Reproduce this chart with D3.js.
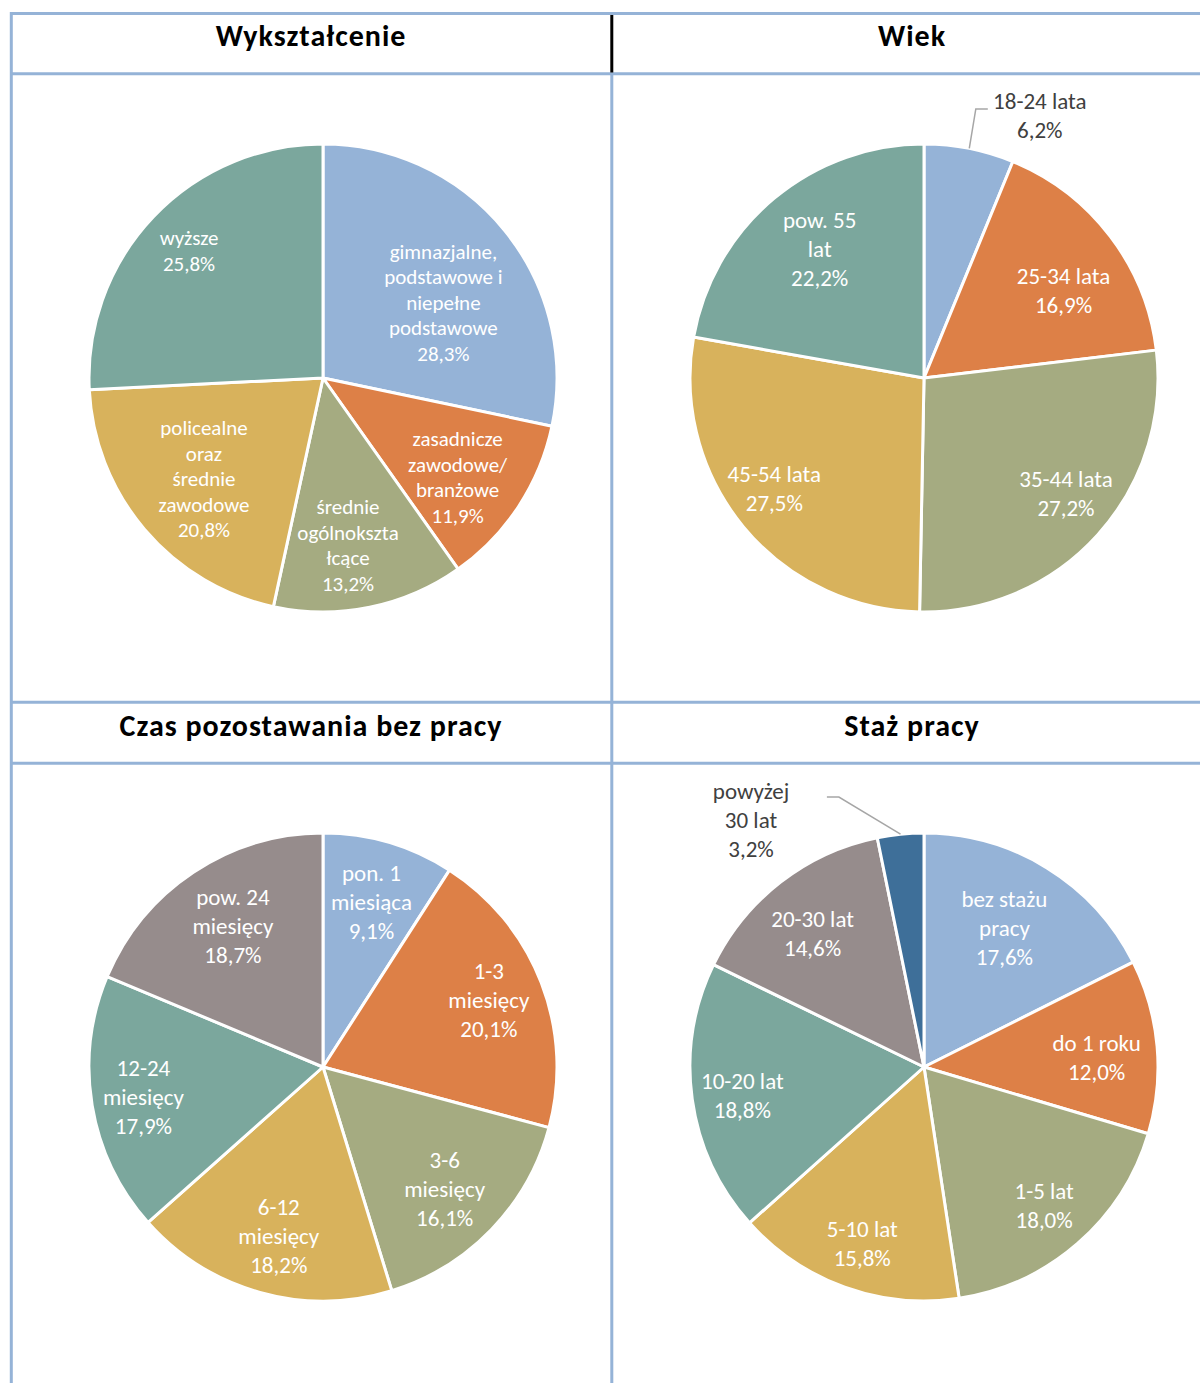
<!DOCTYPE html>
<html>
<head>
<meta charset="utf-8">
<script src="https://cdn.jsdelivr.net/npm/d3@7"></script>
<style>
  body { margin: 0; background: #fff; }
  svg { display: block; font-family: Carlito, Calibri, Lato, sans-serif; }
</style>
</head>
<body>
<svg id="chart" width="1200" height="1383"></svg>
<script>
// ---- data ----
var titles = ["Wykształcenie", "Wiek", "Czas pozostawania bez pracy", "Staż pracy"];

var eduCats = ["gimnazjalne,\npodstawowe i\nniepełne\npodstawowe", "zasadnicze\nzawodowe/\nbranżowe",
               "średnie\nogólnokszta\nłcące", "policealne\noraz\nśrednie\nzawodowe", "wyższe"];
var eduVals = [28.3, 11.9, 13.2, 20.8, 25.8];

var ageCats = ["18-24 lata", "25-34 lata", "35-44 lata", "45-54 lata", "pow. 55\nlat"];
var ageVals = [6.2, 16.9, 27.2, 27.5, 22.2];

var unempCats = ["pon. 1\nmiesiąca", "1-3\nmiesięcy", "3-6\nmiesięcy", "6-12\nmiesięcy", "12-24\nmiesięcy", "pow. 24\nmiesięcy"];
var unempVals = [9.1, 20.1, 16.1, 18.2, 17.9, 18.7];

var tenureCats = ["bez stażu\npracy", "do 1 roku", "1-5 lat", "5-10 lat", "10-20 lat", "20-30 lat", "powyżej\n30 lat"];
var tenureVals = [17.6, 12.0, 18.0, 15.8, 18.8, 14.6, 3.2];

var colors = ["#95b3d7", "#dd8047", "#a5ab81", "#d8b25c", "#7ba79d", "#968c8c", "#3e6f99"];

// ---- layout ----
// inside labels: distance from centre (fraction of radius) and angle nudge (degrees) per slice
var eduLabR = [0.607, 0.714, 0.722, 0.667, 0.79];
var eduLabA = [7, 3, 3, 0, 0];
var ageLabR = [0, 0.705, 0.782, 0.795, 0.709];
var ageLabA = [0, 5, -3, 3, 1];
var unempLabR = [0.735, 0.765, 0.735, 0.748, 0.778, 0.714];
var unempLabA = [0, -1, 1, -1, 0, 1];
var tenureLabR = [0.688, 0.739, 0.782, 0.799, 0.786, 0.744, 0];
var tenureLabA = [-1.7, 2, 0, -0.5, -1, -2, 0];

var R = 234;
var gridColor = "#95b3d7";
var fmt = d3.formatLocale({decimal: ",", thousands: " ", grouping: [3], currency: ["", ""]}).format(".1f");

var svg = d3.select("#chart");

// table grid
var grid = svg.append("g").attr("stroke", gridColor).attr("stroke-width", 3);
[13.5, 73.8, 702.3, 763.3].forEach(function(y) {
  grid.append("line").attr("x1", 10).attr("x2", 1200).attr("y1", y).attr("y2", y);
});
grid.append("line").attr("x1", 11.3).attr("x2", 11.3).attr("y1", 12).attr("y2", 1383);
grid.append("line").attr("x1", 611.8).attr("x2", 611.8).attr("y1", 75).attr("y2", 1383);
svg.append("line").attr("x1", 611.8).attr("x2", 611.8).attr("y1", 15).attr("y2", 72.5)
  .attr("stroke", "#000").attr("stroke-width", 3);

// titles
var titlePos = [[311, 35], [912, 35], [311, 725], [912, 725]];
titles.forEach(function(t, i) {
  svg.append("text")
    .attr("x", titlePos[i][0]).attr("y", titlePos[i][1])
    .attr("dy", "0.35em")
    .attr("text-anchor", "middle")
    .attr("font-weight", "bold")
    .attr("font-size", 30)
    .attr("letter-spacing", 1)
    .attr("fill", "#000")
    .text(t);
});

function drawPie(cx, cy, cats, vals, labR, labA, fontSize, lineH, outside) {
  var g = svg.append("g").attr("transform", "translate(" + cx + "," + cy + ")");
  var pie = d3.pie().sort(null).value(function(d) { return d; });
  var arc = d3.arc().innerRadius(0).outerRadius(R);
  var arcs = pie(vals);

  g.selectAll("path.slice")
    .data(arcs)
    .enter().append("path")
      .attr("class", "slice")
      .attr("d", arc)
      .attr("fill", function(d, i) { return colors[i]; })
      .attr("stroke", "#fff")
      .attr("stroke-width", 3)
      .attr("stroke-linejoin", "round");

  arcs.forEach(function(d, i) {
    var mid = (d.startAngle + d.endAngle) / 2;
    var lines = cats[i].split("\n").concat([fmt(vals[i]) + "%"]);
    var o = outside && outside[i];
    var px, py, fill;
    if (o) {
      // leader line: arc edge -> elbow -> short horizontal
      var sx = Math.sin(mid) * R, sy = -Math.cos(mid) * R;
      var ea = o.elbowA * Math.PI / 180;
      var ex = Math.sin(ea) * o.elbowR, ey = -Math.cos(ea) * o.elbowR;
      var hx = ex + o.hor;
      g.append("path")
        .attr("d", "M" + sx + "," + sy + "L" + ex + "," + ey + "L" + hx + "," + ey)
        .attr("fill", "none")
        .attr("stroke", "#a6a6a6")
        .attr("stroke-width", 1.5);
      var ta = o.textA * Math.PI / 180;
      px = Math.sin(ta) * o.textR; py = -Math.cos(ta) * o.textR;
      fill = "#404040";
    } else {
      var a = mid + labA[i] * Math.PI / 180;
      px = Math.sin(a) * R * labR[i]; py = -Math.cos(a) * R * labR[i];
      fill = "#fff";
    }
    var t = g.append("text")
      .attr("text-anchor", "middle")
      .attr("font-size", fontSize)
      .attr("fill", fill);
    var y0 = py - (lines.length - 1) * lineH / 2;
    lines.forEach(function(l, k) {
      t.append("tspan")
        .attr("x", px)
        .attr("y", y0 + k * lineH)
        .attr("dy", "0.35em")
        .text(l);
    });
  });
}

drawPie(323, 378, eduCats, eduVals, eduLabR, eduLabA, 21, 25.5, null);
drawPie(924, 378, ageCats, ageVals, ageLabR, ageLabA, 23, 29,
  {0: {elbowR: 274, elbowA: 10.9, hor: 12, textR: 287, textA: 23.8}});
drawPie(323, 1067, unempCats, unempVals, unempLabR, unempLabA, 23, 29, null);
drawPie(924, 1067, tenureCats, tenureVals, tenureLabR, tenureLabA, 23, 29,
  {6: {elbowR: 283, elbowA: 342.5, hor: -12, textR: 301.6, textA: 325}});
</script>
</body>
</html>
